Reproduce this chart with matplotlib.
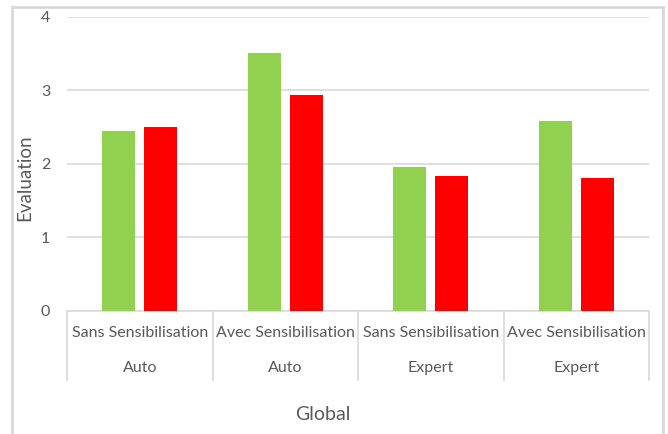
import matplotlib
matplotlib.use("Agg")
import matplotlib.pyplot as plt
import matplotlib.transforms as mtransforms
from matplotlib.patches import Rectangle

# ---- DATA ----
sensibilisation = ["Sans Sensibilisation", "Avec Sensibilisation",
                   "Sans Sensibilisation", "Avec Sensibilisation"]
groups = ["Auto", "Auto", "Expert", "Expert"]
green_vals = [2.44, 3.50, 1.95, 2.58]
red_vals = [2.50, 2.94, 1.83, 1.80]
y_ticks = [0, 1, 2, 3, 4]

plt.rcParams['font.family'] = ['Lato', 'DejaVu Sans']
txt = "#595959"
grid_col = "#D9D9D9"

# ---- FIGURE ----
fig = plt.figure(figsize=(6.68, 4.34), dpi=100)
ax = fig.add_axes([67 / 668, 1 - 311 / 434, (649 - 67) / 668, (311 - 16.5) / 434])

x = list(range(len(groups)))
w = 0.225
ax.bar([i - 0.145 for i in x], green_vals, width=w, color="#92D050", zorder=3)
ax.bar([i + 0.145 for i in x], red_vals, width=w, color="#FF0000", zorder=3)

ax.set_xlim(-0.5, len(groups) - 0.5)
ax.set_ylim(0, 4)
ax.set_yticks(y_ticks)
ax.set_yticklabels([str(t) for t in y_ticks], color=txt, fontsize=11.5)
ax.tick_params(axis="y", length=0, pad=12)
ax.set_xticks([])
ax.yaxis.grid(True, color=grid_col, linewidth=1.2, zorder=0)
for s in ["top", "right", "left"]:
    ax.spines[s].set_visible(False)
ax.spines["bottom"].set_color(grid_col)
ax.spines["bottom"].set_linewidth(1.2)

# ---- MULTI-LEVEL CATEGORY AXIS ----
# x in data units, y as pixels from the top of the figure
fy = lambda p: 1 - p / 434
tr = mtransforms.blended_transform_factory(ax.transData, fig.transFigure)

for i in range(len(groups) + 1):
    ax.plot([i - 0.5, i - 0.5], [fy(311), fy(380)], color=grid_col, lw=1.2,
            transform=tr, clip_on=False)
for i, (s, g) in enumerate(zip(sensibilisation, groups)):
    ax.text(i, fy(333), s, transform=tr, ha="center", va="center",
            color=txt, fontsize=11.5)
    ax.text(i, fy(368), g, transform=tr, ha="center", va="center",
            color=txt, fontsize=11.5)

fig.text(323 / 668, fy(415), "Global", ha="center", va="center",
         color=txt, fontsize=14)
fig.text(25 / 668, fy(178), "Evaluation", ha="center", va="center",
         rotation=90, color=txt, fontsize=13.5)

# chart border (bottom edge falls outside the image)
fig.patches.append(Rectangle((12 / 668, -0.02), (663 - 12) / 668, fy(7) + 0.02,
                             transform=fig.transFigure, fill=False,
                             edgecolor=grid_col, linewidth=2))

fig.savefig("out.png", dpi=100)
